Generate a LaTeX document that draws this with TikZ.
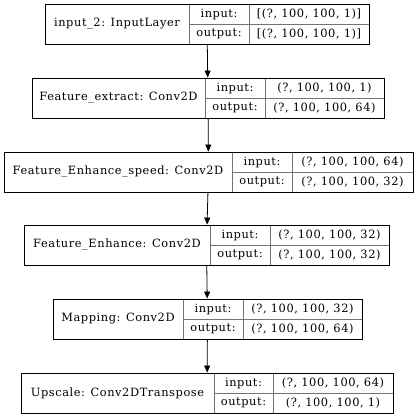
\documentclass[tikz,border=0pt]{standalone}
\usepackage{fontspec}
\setmainfont[LetterSpace=5]{DejaVu Serif}
\usetikzlibrary{arrows.meta,fit}
\tikzset{
  outerbox/.style={draw=black,line width=0.9pt,inner sep=0pt},
  innerline/.style={draw=black!55,line width=0.9pt},
  txt/.style={inner sep=0pt,font=\fontsize{11.4}{13}\selectfont},
  arr/.style={draw=black,line width=0.8pt,-{Triangle[length=7pt,width=6pt]}}
}
\newcommand{\klayer}[9]{%
  \draw[innerline] (#3,#6) -- (#3,#6+40);
  \draw[innerline] (#4,#6) -- (#4,#6+40);
  \draw[innerline] (#3,#6+20) -- (#5,#6+20);
  \coordinate (#1nw) at (#2,#6);
  \coordinate (#1se) at (#5,#6+40);
  \node[outerbox,fit=(#1nw)(#1se)] (#1) {};
  \node[txt] (#1lab) at ({(#2+#3)/2},#6+20) {#7};
  \node[txt] (#1in) at ({(#3+#4)/2},#6+10) {input:};
  \node[txt] (#1out) at ({(#3+#4)/2},#6+30) {output:};
  \node[txt] (#1inv) at ({(#4+#5)/2},#6+10) {#8};
  \node[txt] (#1outv) at ({(#4+#5)/2},#6+30) {#9};
}
\begin{document}
\begin{tikzpicture}[x=1pt,y=-1pt]
\useasboundingbox (0,0) rectangle (415,418);
\fill[white] (0,0) rectangle (415,418);
\klayer{b1}{45}{189}{249}{369}{4}{input\_2: InputLayer}{[(?, 100, 100, 1)]}{[(?, 100, 100, 1)]}
\klayer{b2}{32}{205}{265}{384}{78}{Feature\_extract: Conv2D}{(?, 100, 100, 1)}{(?, 100, 100, 64)}
\klayer{b3}{4}{232}{292}{413}{152}{Feature\_Enhance\_speed: Conv2D}{(?, 100, 100, 64)}{(?, 100, 100, 32)}
\klayer{b4}{24}{210}{270}{389}{225}{Feature\_Enhance: Conv2D}{(?, 100, 100, 32)}{(?, 100, 100, 32)}
\klayer{b5}{53}{183}{243}{362}{299}{Mapping: Conv2D}{(?, 100, 100, 32)}{(?, 100, 100, 64)}
\klayer{b6}{21}{214}{273}{393}{373}{Upscale: Conv2DTranspose}{(?, 100, 100, 64)}{(?, 100, 100, 1)}
\draw[arr] (b1) -- (b2);
\draw[arr] (b2) -- (b3);
\draw[arr] (b3) -- (b4);
\draw[arr] (b4) -- (b5);
\draw[arr] (b5) -- (b6);
\end{tikzpicture}
\end{document}
